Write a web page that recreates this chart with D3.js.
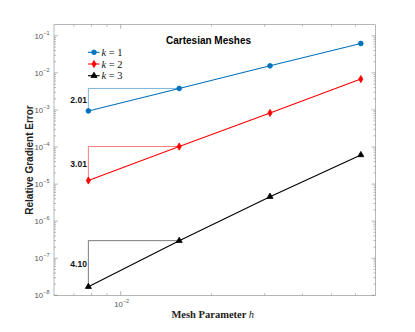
<!DOCTYPE html>
<html>
<head>
<meta charset="utf-8">
<script src="https://cdn.jsdelivr.net/npm/d3@7"></script>
<style>
  body { margin: 0; background: #fff; }
  svg { display: block; }
</style>
</head>
<body>
<script>
// mesh sizes and errors
var hVals = [1/128, 1/64, 1/32, 1/16];
var errK1 = [9.4e-4, 3.8e-3, 1.55e-2, 6.2e-2];
var errK2 = [1.25e-5, 1.03e-4, 8.3e-4, 6.8e-3];
var errK3 = [1.71e-8, 2.98e-7, 4.59e-6, 6.12e-5];
var rateLabels = ["2.01", "3.01", "4.10"];
var kNames = ["1", "2", "3"];
var yTickExp = [-8, -7, -6, -5, -4, -3, -2, -1];
var xTickExp = [-2];

var W = 415, H = 332;
var L = 54, R = 375.5, T = 24.7, B = 295.3;

var svg = d3.select("body").append("svg")
  .attr("width", W).attr("height", H);

var x = d3.scaleLog().domain([0.00601, 0.0699]).range([L, R]);
var y = d3.scaleLog().domain([1e-8, Math.pow(10, -0.7)]).range([B, T]);

var colors = ["#0072BD", "#FF0000", "#000000"];
var series = [errK1, errK2, errK3].map(function(e, i) {
  return { name: kNames[i], rate: rateLabels[i], color: colors[i],
    pts: hVals.map(function(h, j) { return { h: h, e: e[j] }; }) };
});

// minor ticks
var yMinor = [], xMinor = [];
yTickExp.forEach(function(p) {
  for (var m = 2; m <= 9; m++) { var v = m * Math.pow(10, p); if (v <= y.domain()[1]) yMinor.push(v); }
});
[-3, -2].forEach(function(p) {
  for (var m = 2; m <= 9; m++) { var v = m * Math.pow(10, p); if (v >= x.domain()[0] && v <= x.domain()[1]) xMinor.push(v); }
});

var axisCol = "#858585";
var ax = svg.append("g").attr("stroke", axisCol).attr("stroke-width", 0.6);
ax.append("rect").attr("x", L).attr("y", T).attr("width", R - L).attr("height", B - T)
  .attr("fill", "none");

yTickExp.forEach(function(p) {
  var yy = y(Math.pow(10, p));
  ax.append("line").attr("x1", L).attr("x2", L + 4).attr("y1", yy).attr("y2", yy);
  ax.append("line").attr("x1", R).attr("x2", R - 4).attr("y1", yy).attr("y2", yy);
});
yMinor.forEach(function(v) {
  var yy = y(v);
  ax.append("line").attr("x1", L).attr("x2", L + 2).attr("y1", yy).attr("y2", yy);
  ax.append("line").attr("x1", R).attr("x2", R - 2).attr("y1", yy).attr("y2", yy);
});
xTickExp.forEach(function(p) {
  var xx = x(Math.pow(10, p));
  ax.append("line").attr("x1", xx).attr("x2", xx).attr("y1", B).attr("y2", B - 4);
  ax.append("line").attr("x1", xx).attr("x2", xx).attr("y1", T).attr("y2", T + 4);
});
xMinor.forEach(function(v) {
  var xx = x(v);
  ax.append("line").attr("x1", xx).attr("x2", xx).attr("y1", B).attr("y2", B - 2);
  ax.append("line").attr("x1", xx).attr("x2", xx).attr("y1", T).attr("y2", T + 2);
});

// tick labels
var tickFont = "'Liberation Sans', Arial, sans-serif";
yTickExp.forEach(function(p) {
  var t = svg.append("text").attr("x", L - 4.5).attr("y", y(Math.pow(10, p)) + 3)
    .attr("text-anchor", "end").attr("font-family", tickFont).attr("fill", "#555");
  t.append("tspan").attr("font-size", 7.8).text("10");
  t.append("tspan").attr("font-size", 5.5).attr("dy", -4).text("\u2212" + (-p));
});
xTickExp.forEach(function(p) {
  var t = svg.append("text").attr("x", x(Math.pow(10, p)) + 1).attr("y", B + 11.2)
    .attr("text-anchor", "middle").attr("font-family", tickFont).attr("fill", "#555");
  t.append("tspan").attr("font-size", 7.8).text("10");
  t.append("tspan").attr("font-size", 5.5).attr("dy", -4).text("\u2212" + (-p));
});

// slope triangles
series.forEach(function(s) {
  var a = s.pts[0], b = s.pts[1];
  svg.append("path")
    .attr("d", "M" + x(a.h) + "," + y(a.e) + "V" + y(b.e) + "H" + x(b.h))
    .attr("fill", "none").attr("stroke", s.color).attr("stroke-width", 0.7).attr("opacity", 0.75);
  svg.append("text")
    .attr("x", x(a.h) - 1.5).attr("y", (y(a.e) + y(b.e)) / 2 + 3)
    .attr("text-anchor", "end").attr("font-family", tickFont).attr("font-weight", "bold")
    .attr("font-size", 8.5).attr("fill", "#111").text(s.rate);
});

var line = d3.line().x(function(d) { return x(d.h); }).y(function(d) { return y(d.e); });
var symbols = [d3.symbolCircle, d3.symbolDiamond, d3.symbolTriangle];
var symSize = [18, 15, 16];

series.forEach(function(s, i) {
  svg.append("path").datum(s.pts).attr("d", line)
    .attr("fill", "none").attr("stroke", s.color).attr("stroke-width", 1.1);
  svg.selectAll(null).data(s.pts).enter().append("path")
    .attr("d", d3.symbol().type(symbols[i]).size(symSize[i]))
    .attr("transform", function(d) { return "translate(" + x(d.h) + "," + y(d.e) + ")"; })
    .attr("fill", s.color).attr("stroke", s.color).attr("stroke-width", 0.8);
});

// legend
var lg = svg.append("g");
series.forEach(function(s, i) {
  var ly = 52.3 + i * 11.7;
  lg.append("line").attr("x1", 88).attr("x2", 99.5).attr("y1", ly).attr("y2", ly)
    .attr("stroke", s.color).attr("stroke-width", 1.1);
  lg.append("path").attr("d", d3.symbol().type(symbols[i]).size(symSize[i])())
    .attr("transform", "translate(94," + ly + ")")
    .attr("fill", s.color).attr("stroke", s.color).attr("stroke-width", 0.8);
  var t = lg.append("text").attr("x", 101.5).attr("y", ly + 3.5)
    .attr("font-family", "'Liberation Serif', 'DejaVu Serif', serif").attr("font-size", 10.5).attr("fill", "#111");
  t.append("tspan").attr("font-style", "italic").text("k");
  t.append("tspan").text(" = " + s.name);
});

// title and labels
svg.append("text").attr("x", 166).attr("y", 43.5)
  .attr("font-family", tickFont).attr("font-weight", "bold").attr("font-size", 10)
  .attr("fill", "#000").text("Cartesian Meshes");

svg.append("text").attr("transform", "translate(33," + ((T + B) / 2) + ") rotate(-90)")
  .attr("text-anchor", "middle").attr("font-family", tickFont).attr("font-weight", "bold")
  .attr("font-size", 10).attr("fill", "#222").text("Relative Gradient Error");

var xl = svg.append("text").attr("x", (L + R) / 2 - 2).attr("y", 318)
  .attr("text-anchor", "middle").attr("font-family", "'Liberation Serif', 'DejaVu Serif', serif")
  .attr("font-size", 10.5).attr("fill", "#222");
xl.append("tspan").attr("font-weight", "bold").text("Mesh Parameter ");
xl.append("tspan").attr("font-style", "italic").text("h");
</script>
</body>
</html>
